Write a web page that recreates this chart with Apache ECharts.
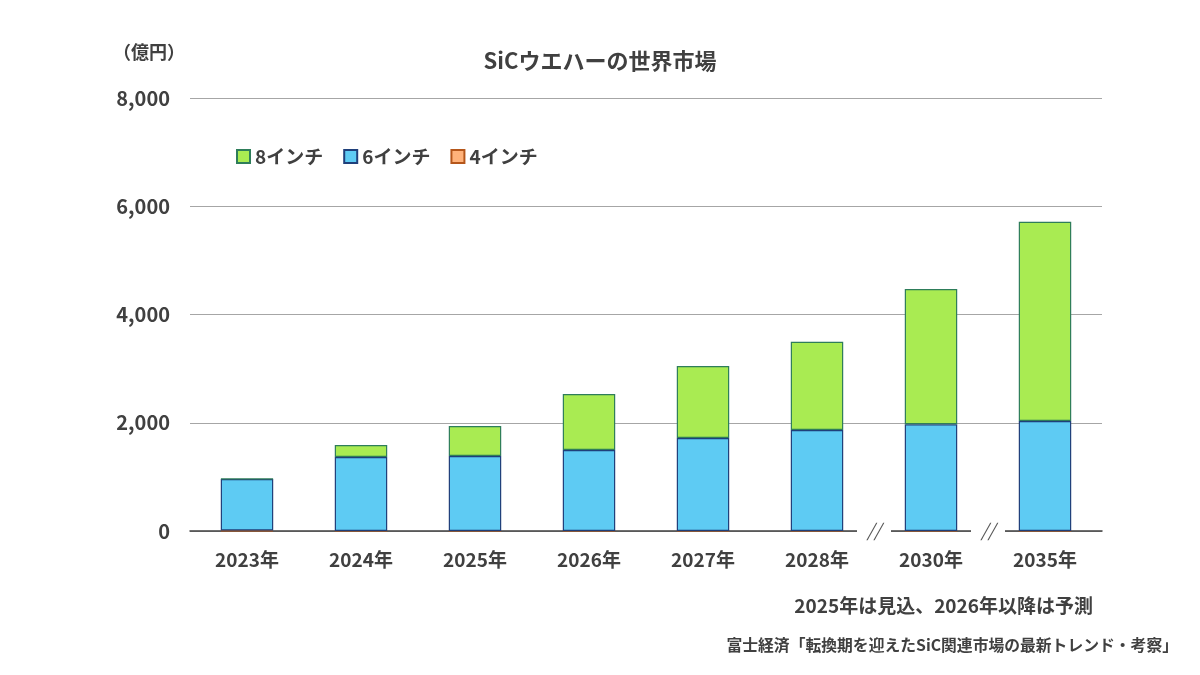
<!DOCTYPE html>
<html>
<head>
<meta charset="utf-8">
<script src="https://cdn.jsdelivr.net/npm/echarts@6/dist/echarts.min.js"></script>
<style>
  html, body { margin: 0; padding: 0; background: #fff; }
  #chart { width: 1200px; height: 675px; }
</style>
</head>
<body>
<div id="chart"></div>
<script>
// 年次カテゴリ（2029年・2031-2034年は省略、// で区切る）
const years = ['2023年', '2024年', '2025年', '2026年', '2027年', '2028年', '2030年', '2035年']
// 億円
const inch4 = [8, 0, 0, 0, 0, 0, 0, 0]
const inch6 = [952, 1367, 1386, 1497, 1718, 1866, 1971, 2032]
const inch8 = [5, 222, 554, 1034, 1331, 1631, 2500, 3683]
const yTicks = [0, 2000, 4000, 6000, 8000]
const breakAfter = [5, 6] // 2028|2030, 2030|2035 の間に省略記号

const FONT = "'Noto Sans CJK JP', 'Noto Sans', sans-serif"
const TXT = '#404040'

const chart = echarts.init(document.getElementById('chart'))

function barSeries(name, data, color, border) {
  return {
    name: name,
    type: 'bar',
    stack: 'total',
    data: data,
    barWidth: '46%',
    itemStyle: { color: color, borderColor: border, borderWidth: 1.2 }
  }
}

chart.setOption({
  animation: false,
  textStyle: { fontFamily: FONT },
  title: {
    text: 'SiCウエハーの世界市場',
    left: 'center',
    top: 45,
    textStyle: { fontSize: 22, fontWeight: 'bold', color: TXT, fontFamily: FONT }
  },
  legend: {
    data: ['8インチ', '6インチ', '4インチ'],
    left: 231,
    top: 142,
    itemWidth: 13,
    itemHeight: 13,
    itemGap: 20,
    icon: 'rect',
    textStyle: { fontSize: 19, fontWeight: 'bold', color: TXT, fontFamily: FONT }
  },
  grid: { left: 190, right: 98, top: 98, bottom: 144 },
  xAxis: {
    type: 'category',
    data: years,
    axisTick: { show: false },
    axisLine: { lineStyle: { color: TXT, width: 1.5 } },
    axisLabel: { margin: 19, fontSize: 19, fontWeight: 'bold', color: TXT, fontFamily: FONT }
  },
  yAxis: {
    type: 'value',
    min: yTicks[0],
    max: yTicks[yTicks.length - 1],
    interval: yTicks[1] - yTicks[0],
    axisLine: { show: false },
    axisTick: { show: false },
    splitLine: { lineStyle: { color: '#a6a6a6', width: 1.2 } },
    axisLabel: {
      margin: 20,
      fontSize: 20,
      fontWeight: 'bold',
      color: TXT,
      fontFamily: FONT,
      formatter: v => v.toLocaleString('en-US')
    }
  },
  series: [
    barSeries('4インチ', inch4, '#FFB27A', '#B5561A'),
    barSeries('6インチ', inch6, '#5ECBF3', '#1F3F7A'),
    barSeries('8インチ', inch8, '#A9EB52', '#2E7D5A')
  ]
})

// 注記・単位・出典と省略記号
const y0 = chart.convertToPixel({ yAxisIndex: 0 }, 0)
const graphics = [
  {
    type: 'text', left: 113, top: 43,
    style: { text: '（億円）', font: 'bold 18px ' + FONT, fill: TXT }
  },
  {
    type: 'text', right: 107, top: 596,
    style: { text: '2025年は見込、2026年以降は予測', font: 'bold 19px ' + FONT, fill: TXT }
  },
  {
    type: 'text', right: 22, top: 637,
    style: { text: '富士経済「転換期を迎えたSiC関連市場の最新トレンド・考察」', font: 'bold 15.8px ' + FONT, fill: TXT }
  }
]
breakAfter.forEach(i => {
  const xa = chart.convertToPixel({ xAxisIndex: 0 }, i)
  const xb = chart.convertToPixel({ xAxisIndex: 0 }, i + 1)
  const xm = (xa + xb) / 2
  graphics.push({
    type: 'rect', z: 100,
    shape: { x: xm - 17, y: y0 - 4, width: 34, height: 8 },
    style: { fill: '#fff' }
  })
  graphics.push({
    type: 'text', z: 101, x: xm, y: y0 - 1,
    style: { text: '//', font: 'italic 18px ' + FONT, fill: '#555', align: 'center', verticalAlign: 'middle' }
  })
})
chart.setOption({ graphic: graphics })

window.addEventListener('resize', () => {
  chart.resize()
})
</script>
</body>
</html>
